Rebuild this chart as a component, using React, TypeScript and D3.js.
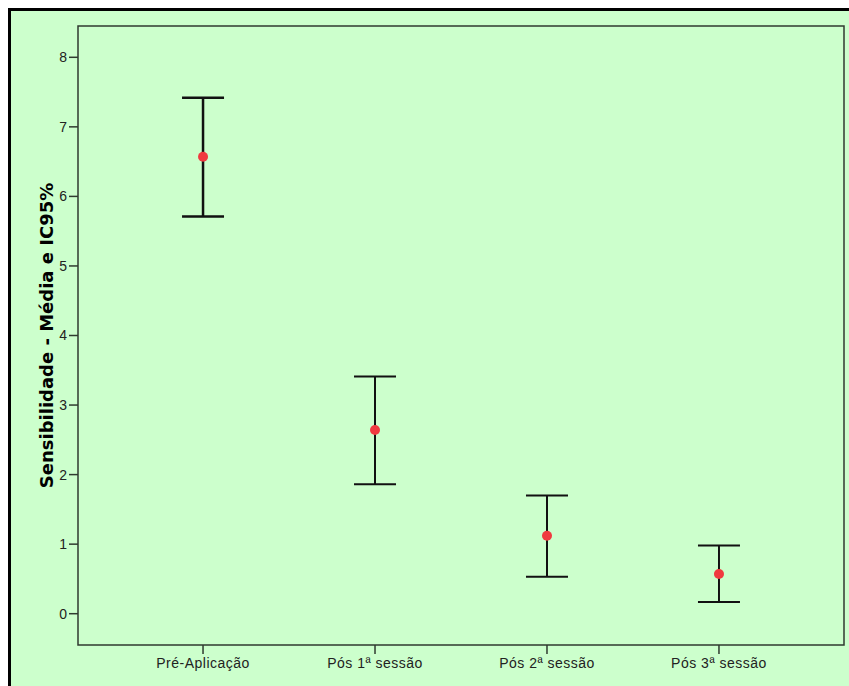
import React from "react";
import * as d3 from "d3";

const categories = ["Pré-Aplicação", "Pós 1ª sessão", "Pós 2ª sessão", "Pós 3ª sessão"];
const means = [6.57, 2.64, 1.12, 0.57];
const lowerCI = [5.71, 1.86, 0.53, 0.17];
const upperCI = [7.42, 3.41, 1.70, 0.98];
const yTicks = [0, 1, 2, 3, 4, 5, 6, 7, 8];
const yLabel = "Sensibilidade - Média e IC95%";

export default function App() {
  const W = 849, H = 686;
  const left = 78, right = 844, top = 26, bottom = 645;
  const x = d3.scalePoint<string>().domain(categories).range([left, right]).padding(0.727);
  const y = d3.scaleLinear().domain([-0.45, 8.45]).range([bottom, top]);
  const font = "'Liberation Sans', Arial, sans-serif";
  const capHalf = 21;
  const axisColor = "#2f3a2f";
  return (
    <svg width={W} height={H} style={{ position: "absolute", left: 0, top: 0 }} fontFamily={font}>
      <rect x={0} y={0} width={W} height={H} fill="#ffffff" />
      <rect x={9.5} y={9.5} width={W + 20} height={H + 20} fill="#ccffcc" stroke="#000" strokeWidth={3} />
      <path d={`M${left},${bottom}V${top}H${right}V${bottom}Z`} fill="none" stroke={axisColor} strokeWidth={1.5} />
      {yTicks.map((t) => (
        <g key={t} transform={`translate(0,${y(t)})`}>
          <line x1={left - 9} x2={left} stroke={axisColor} strokeWidth={1.5} />
          <text x={left - 11} dy="0.35em" textAnchor="end" fontSize={14} fill="#222">{t}</text>
        </g>
      ))}
      {categories.map((c) => (
        <g key={c} transform={`translate(${x(c)},0)`}>
          <line y1={bottom} y2={bottom + 9} stroke={axisColor} strokeWidth={1.5} />
          <text y={bottom + 23} textAnchor="middle" fontSize={14} letterSpacing={0.5} fill="#222">{c}</text>
        </g>
      ))}
      <text transform={`translate(53,${(top + bottom) / 2}) rotate(-90)`} textAnchor="middle" fontSize={18} fontWeight="bold" fontFamily="'DejaVu Sans', sans-serif" fill="#000">{yLabel}</text>
      {categories.map((c, i) => {
        const cx = x(c)!;
        const sw = i === 0 ? 2.5 : 2;
        return (
          <g key={c}>
            <line x1={cx} x2={cx} y1={y(upperCI[i])} y2={y(lowerCI[i])} stroke="#111" strokeWidth={sw} />
            <line x1={cx - capHalf} x2={cx + capHalf} y1={y(upperCI[i])} y2={y(upperCI[i])} stroke="#111" strokeWidth={sw} />
            <line x1={cx - capHalf} x2={cx + capHalf} y1={y(lowerCI[i])} y2={y(lowerCI[i])} stroke="#111" strokeWidth={sw} />
            <circle cx={cx} cy={y(means[i])} r={5} fill="#f03a3f" />
          </g>
        );
      })}
    </svg>
  );
}
